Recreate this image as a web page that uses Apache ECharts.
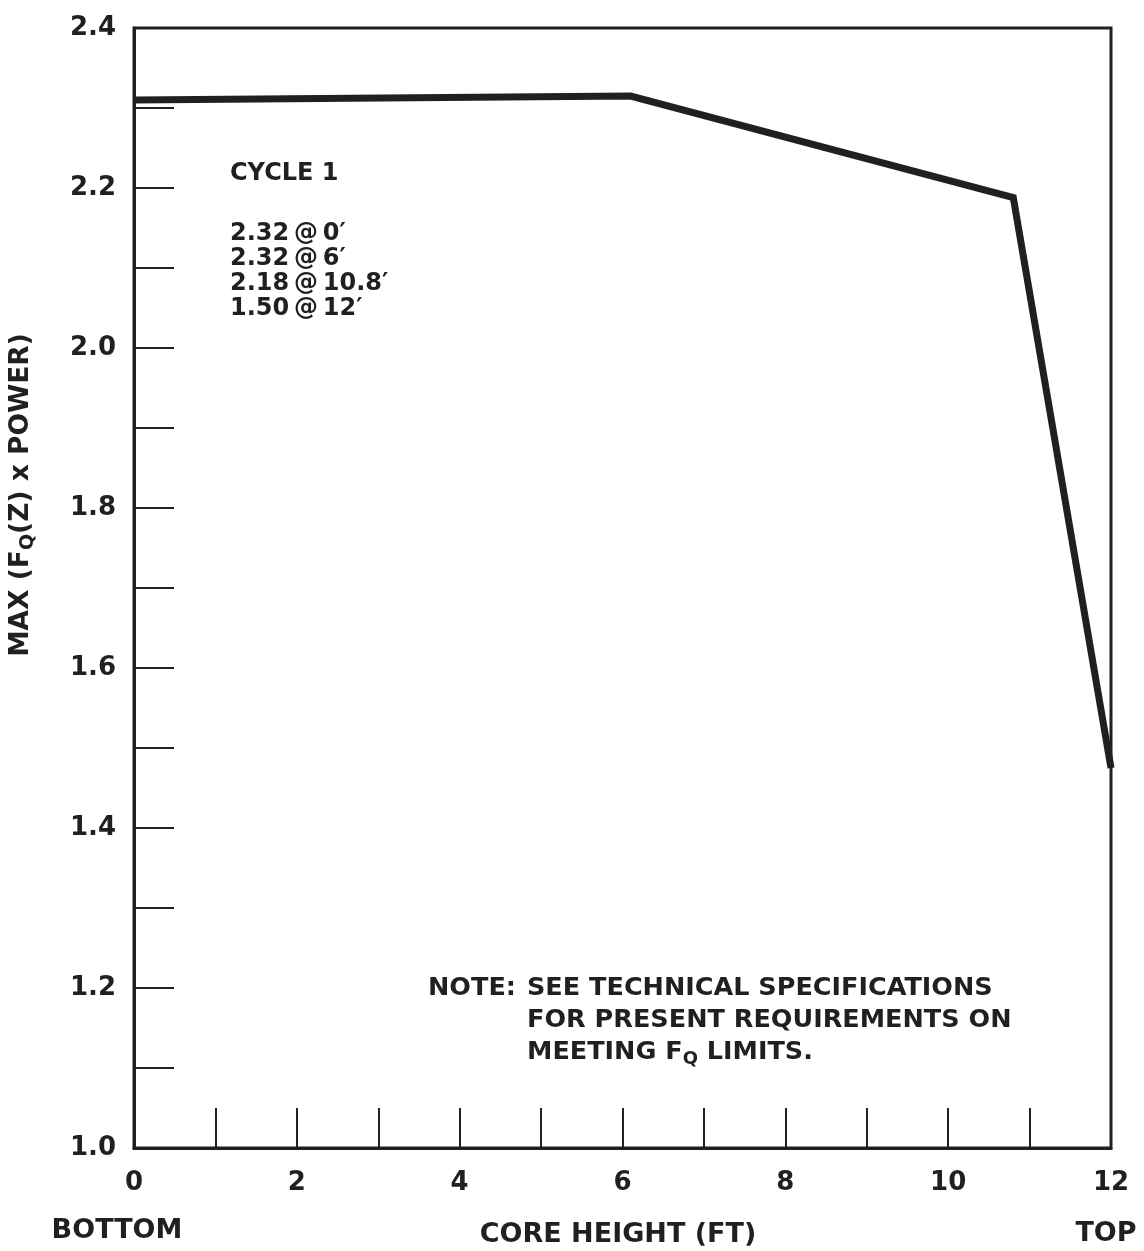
<!DOCTYPE html>
<html>
<head>
<meta charset="utf-8">
<script src="https://cdn.jsdelivr.net/npm/echarts@6/dist/echarts.min.js"></script>
<style>
html,body{margin:0;padding:0;background:#fff;}
#chart{width:1144px;height:1251px;}
</style>
</head>
<body>
<div id="chart"></div>
<script>
// ---- data ----
const coreHeight = [0, 6.1, 10.8, 12];
const maxFqPower = [2.31, 2.315, 2.188, 1.475];
const xTickLabels = ['0', '2', '4', '6', '8', '10', '12'];
const yTickLabels = ['1.0', '1.2', '1.4', '1.6', '1.8', '2.0', '2.2', '2.4'];
const cycleTitle = 'CYCLE 1';
const cycleLines = ["2.32\u2009@\u20090\u2032", "2.32\u2009@\u20096\u2032", "2.18\u2009@\u200910.8\u2032", "1.50\u2009@\u200912\u2032"];
const noteLines = ['SEE TECHNICAL SPECIFICATIONS', 'FOR PRESENT REQUIREMENTS ON', 'MEETING F{s|Q} LIMITS.'];

const INK = '#231f20';
const FONT = '"DejaVu Sans", "Liberation Sans", sans-serif';

const chart = echarts.init(document.getElementById('chart'), null, {renderer: 'canvas'});

const txt = (x, y, text, size, align, extra) => ({
  type: 'text', x: x, y: y, silent: true,
  style: Object.assign({text: text, fill: INK, font: 'bold ' + size + 'px ' + FONT,
    align: align || 'left', verticalAlign: 'middle'}, extra || {})
});
const subRich = (size, drop) => ({s: {fontSize: size, fontWeight: 'bold', fontFamily: FONT, fill: INK, padding: [drop, 0, 0, 0]}});

const graphics = [];
graphics.push(txt(230, 174, cycleTitle, 24));
cycleLines.forEach((t, i) => graphics.push(txt(230, 234 + i * 25, t, 24)));
graphics.push(txt(428, 988, 'NOTE:', 25.5));
noteLines.forEach((t, i) => graphics.push(txt(527, 988 + i * 32, t, 25.5, 'left', {rich: subRich(18, 14)})));
graphics.push(txt(117, 1231, 'BOTTOM', 27, 'center'));
graphics.push(txt(1106, 1234, 'TOP', 27, 'center'));
graphics.push(txt(618, 1235, 'CORE HEIGHT (FT)', 27, 'center'));
graphics.push({
  type: 'text', x: 21, y: 495, rotation: Math.PI / 2, silent: true,
  style: {text: 'MAX (F{s|Q}(Z) x POWER)', fill: INK, font: 'bold 26.5px ' + FONT,
    align: 'center', verticalAlign: 'middle', rich: subRich(19, 15)}
});

const option = {
  backgroundColor: '#fff',
  animation: false,
  grid: {left: 134, right: 33, top: 28, bottom: 103, show: true,
    borderColor: INK, borderWidth: 3, backgroundColor: 'transparent'},
  xAxis: {
    type: 'value', min: 0, max: 12, interval: 2,
    axisLine: {show: true, lineStyle: {color: INK, width: 3}},
    axisTick: {show: true, inside: true, length: 40, lineStyle: {color: INK, width: 2}},
    minorTick: {show: true, splitNumber: 2, length: 40, lineStyle: {color: INK, width: 2}},
    splitLine: {show: false},
    axisLabel: {color: INK, fontSize: 26, fontWeight: 'bold', fontFamily: FONT, margin: 22,
      formatter: (v) => xTickLabels[Math.round(v / 2)]}
  },
  yAxis: {
    type: 'value', min: 1.0, max: 2.4, interval: 0.2,
    axisLine: {show: true, lineStyle: {color: INK, width: 3}},
    axisTick: {show: true, inside: true, length: 40, lineStyle: {color: INK, width: 2}},
    minorTick: {show: true, splitNumber: 2, length: 40, lineStyle: {color: INK, width: 2}},
    splitLine: {show: false},
    axisLabel: {color: INK, fontSize: 26, fontWeight: 'bold', fontFamily: FONT, margin: 18,
      formatter: (v) => yTickLabels[Math.round((v - 1.0) / 0.2)]}
  },
  series: [{
    type: 'line',
    data: coreHeight.map((x, i) => [x, maxFqPower[i]]),
    symbol: 'none',
    lineStyle: {color: INK, width: 7, join: 'miter'},
    clip: false
  }],
  graphic: graphics
};
chart.setOption(option);
</script>
</body>
</html>
